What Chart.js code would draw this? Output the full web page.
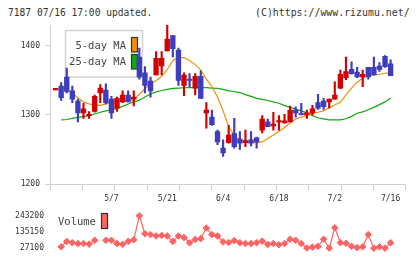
<!DOCTYPE html>
<html><head><meta charset="utf-8">
<script src="https://cdn.jsdelivr.net/npm/chart.js@4.4.1/dist/chart.umd.min.js"></script>
<style>
html,body{margin:0;padding:0;background:#fff;width:420px;height:259px;overflow:hidden;}
#wrap{position:relative;width:420px;height:259px;}
.hdr{position:absolute;top:7px;font:9.6px "DejaVu Sans Mono",monospace;color:#333;line-height:12px;white-space:nowrap;}
canvas{position:absolute;left:0;}
</style></head><body>
<div id="wrap">
<div class="hdr" style="left:8px">7187 07/16 17:00 updated.</div>
<div class="hdr" style="left:255px;font-size:9.9px">(C)https://www.rizumu.net/</div>
<canvas id="main" width="420" height="205" style="top:0"></canvas>
<canvas id="vol" width="420" height="54" style="top:205px"></canvas>
</div>
<script>
// ---- data (trading-day index 0..60) ----
const opens  = [1336.5,1342,1355,1335,1320,1303,1299,1305,1332,1336,1323,1310,1319,1329,1323,1384,1361,1349,1358,1371,1393,1415,1394,1343,1352,1339,1356,1303,1297,1276,1252,1260,1273,1265,1260,1264,1267,1278,1290,1284,1290,1288.5,1290,1307,1302,1300,1303,1318,1320,1319,1323,1339,1354,1366,1362,1355,1369,1369,1371,1385,1374];
const highs  = [1338.5,1347,1368,1342,1323,1317,1305,1329,1344,1345,1327,1326,1335,1335,1335,1397,1370,1355,1392,1392,1430,1415,1397,1361,1360,1360,1364,1318,1307,1278,1264,1285,1295,1276,1278,1276,1268,1299,1294,1304,1299,1301,1313,1312,1317,1307,1314,1330,1324,1323,1348,1365,1384,1377,1369,1365,1369,1384,1376,1386,1380];
const lows   = [1336.5,1321,1332,1318,1290,1295,1295,1304,1318,1316,1295,1305,1318,1319,1313,1352,1332,1326,1358,1358,1393,1384,1343,1328,1341,1329,1324,1281,1285,1257,1240,1259,1252,1250,1254,1255,1252,1274,1283,1278,1278,1288,1290,1297,1300,1295,1300,1308,1308,1310,1323,1338,1351,1359,1354,1341,1352,1358,1363,1369,1357];
const closes = [1338.5,1325,1334,1323,1303,1309,1301,1327,1339,1318,1303,1324,1329,1319,1326,1355,1343,1335,1382,1382,1410,1396,1350,1358,1350,1356,1324,1307,1286,1261,1245,1271,1254,1259,1263,1259,1261,1294,1283,1287,1292,1291.5,1307,1303,1300.5,1303,1309,1310,1312,1323,1329,1359,1363,1360,1355,1359,1355,1358,1366,1370,1357];
const ma5  = [null,1341,1337,1331,1325,1319,1316,1314,1314,1316,1318,1319,1321,1321,1322,1330,1338,1345,1350,1356,1366,1379,1383,1383,1379,1373,1365,1352,1341,1326,1306,1283,1271,1264,1261.5,1260.5,1259.5,1261,1266,1271,1276,1282,1288,1294,1297,1299.5,1302.5,1304,1306,1310.5,1314.5,1318.5,1329,1339,1347.5,1353.5,1357,1358,1359,1360.5,1361.5];
const ma25 = [null,1292.8,1293.5,1295,1296.5,1297.5,1298.5,1301.5,1304,1306,1307.5,1309.5,1312.5,1316,1319,1321.5,1326,1330.5,1333.5,1335.5,1337,1338.5,1339,1339.5,1339.6,1339.6,1339.6,1339.6,1339,1338.5,1337,1335,1334,1332.5,1329.5,1327,1324,1322.5,1321,1319,1317,1313.5,1311,1308.5,1306,1303,1299,1296,1294.5,1293,1292.8,1293,1294.5,1298,1302.5,1304.5,1307.5,1311,1315,1319,1324.5];
const volumes = [null,36400,72300,63600,58100,58100,54300,79900,null,79900,79900,58100,52700,72300,83200,243200,123400,118000,108700,112600,108700,72300,108700,97900,63600,85300,90800,161500,118000,108700,69000,65200,77700,63600,58100,58100,63600,74500,52700,58100,50500,58100,87000,79900,58100,28000,34200,39600,87000,27900,163200,63600,59800,39600,30900,36400,118000,27100,36400,27500,63600];
const dateLabels   = ['5/7','5/21','6/4','6/18','7/2','7/16'];
const dateLabelIdx = [10,20,30,40,50,60];
const priceTicks  = [1200,1300,1400];
const volumeTicks = [27100,135150,243200];

// ---- styling ----
const UP='#d20000', DOWN='#3d3dbd', C5='#f0900a', C25='#12a812', VOLC='#ff6464';
const MONO='"DejaVu Sans Mono", monospace';
const XMIN=-1, XMAX=62.7;
const gridTicks = [];
for (let k=0;k<=11;k++) gridTicks.push(XMIN + k*(XMAX-XMIN)/11);

const idx = opens.map((_,i)=>i);
const bodyData = idx.map(i=>({x:i, y:[opens[i], closes[i]]}));
const wickData = idx.map(i=>({x:i, y:[lows[i], highs[i]]}));
const candleColor = ctx => { const i=ctx.dataIndex; return closes[i]>=opens[i]?UP:DOWN; };

const legendBox = {
  id:'legendBox',
  beforeDatasetsDraw(chart){
    const c=chart.ctx; c.save();
    c.fillStyle='#fff'; c.fillRect(65,30,78,47);
    c.strokeStyle='#d4d4d4'; c.lineWidth=1.5; c.strokeRect(65.5,30.5,77,46.5);
    c.font='10.5px '+MONO; c.fillStyle='#444'; c.textAlign='right'; c.textBaseline='middle';
    c.fillText('5-day MA',126,46); c.fillText('25-day MA',126,62.5);
    c.lineWidth=1.2; c.strokeStyle='#333';
    c.fillStyle=C5; c.fillRect(131,37,7,15); c.strokeRect(131.5,37.5,6,14.5);
    c.fillStyle=C25; c.fillRect(131,54,7,15); c.strokeRect(131.5,54.5,6,14.5);
    c.restore();
  }
};

new Chart(document.getElementById('main'), {
  type:'bar',
  data:{ datasets:[
    {type:'bar', data:bodyData, backgroundColor:candleColor, barThickness:4.7, grouped:false, order:1, borderWidth:0},
    {type:'bar', data:wickData, backgroundColor:candleColor, barThickness:1.5, grouped:false, order:2, borderWidth:0},
    {type:'line', data:idx.map(i=>({x:i,y:ma5[i]})), borderColor:C5, borderWidth:1.2, pointRadius:0, order:3, tension:0},
    {type:'line', data:idx.map(i=>({x:i,y:ma25[i]})), borderColor:C25, borderWidth:1.2, pointRadius:0, order:4, tension:0}
  ]},
  options:{
    responsive:false, animation:false, devicePixelRatio:1,
    layout:{padding:{top:25,right:14.3,left:0,bottom:0}},
    plugins:{legend:{display:false}, tooltip:{enabled:false}},
    scales:{
      x:{type:'linear', position:'bottom', min:XMIN, max:XMAX, offset:false,
         grid:{drawOnChartArea:false, offset:false, color:'#d0d0d0', tickLength:6},
         border:{color:'#d0d0d0'},
         ticks:{display:false},
         afterBuildTicks:s=>{ s.ticks = gridTicks.map(v=>({value:v})); },
         afterFit:s=>{ s.height=6; }},
      xl:{type:'linear', position:'bottom', min:XMIN, max:XMAX, offset:false,
         grid:{display:false, drawTicks:false, offset:false}, border:{display:false},
         ticks:{font:{family:MONO,size:8}, color:'#333', padding:4, maxRotation:0, autoSkip:false,
                callback:(v,i)=>dateLabels[i]},
         afterBuildTicks:s=>{ s.ticks = dateLabelIdx.map(v=>({value:v})); },
         afterFit:s=>{ s.height=15; }},
      y:{min:1200, max:1430.4,
         grid:{drawOnChartArea:false, color:'#d0d0d0', tickLength:5},
         border:{color:'#d0d0d0'},
         ticks:{font:{family:MONO,size:8}, color:'#333', padding:5, callback:v=>String(v)},
         afterBuildTicks:s=>{ s.ticks = priceTicks.map(v=>({value:v})); },
         afterFit:s=>{ s.width=50; }}
    }
  },
  plugins:[legendBox]
});

const volLegend = {
  id:'volLegend',
  beforeDatasetsDraw(chart){
    const c=chart.ctx; c.save();
    c.font='10.5px '+MONO; c.fillStyle='#444'; c.textAlign='left'; c.textBaseline='middle';
    c.fillText('Volume',58,17.5);
    c.fillStyle=VOLC; c.fillRect(101.5,8.5,6,15);
    c.strokeStyle='#333'; c.lineWidth=1.2; c.strokeRect(101.5,8.5,6,15);
    c.restore();
  }
};

new Chart(document.getElementById('vol'), {
  type:'line',
  data:{ datasets:[{
    data:idx.map(i=>({x:i,y:volumes[i]})), borderColor:VOLC, backgroundColor:VOLC, borderWidth:1.2,
    pointStyle:'rectRot', pointRadius:3.3, pointBorderWidth:1, pointBackgroundColor:VOLC, pointBorderColor:VOLC,
    spanGaps:false, clip:false, tension:0
  }]},
  options:{
    responsive:false, animation:false, devicePixelRatio:1,
    layout:{padding:{top:4.3,right:14.3,left:0,bottom:5}},
    plugins:{legend:{display:false}, tooltip:{enabled:false}},
    scales:{
      x:{type:'linear', display:false, min:XMIN, max:XMAX},
      y:{min:27100, max:243200,
         grid:{display:false, drawTicks:false}, border:{display:false},
         ticks:{font:{family:MONO,size:8}, color:'#333', padding:6, callback:v=>String(v)},
         afterBuildTicks:s=>{ s.ticks = volumeTicks.map(v=>({value:v})); },
         afterFit:s=>{ s.width=50; }}
    }
  },
  plugins:[volLegend]
});
</script>
</body></html>
